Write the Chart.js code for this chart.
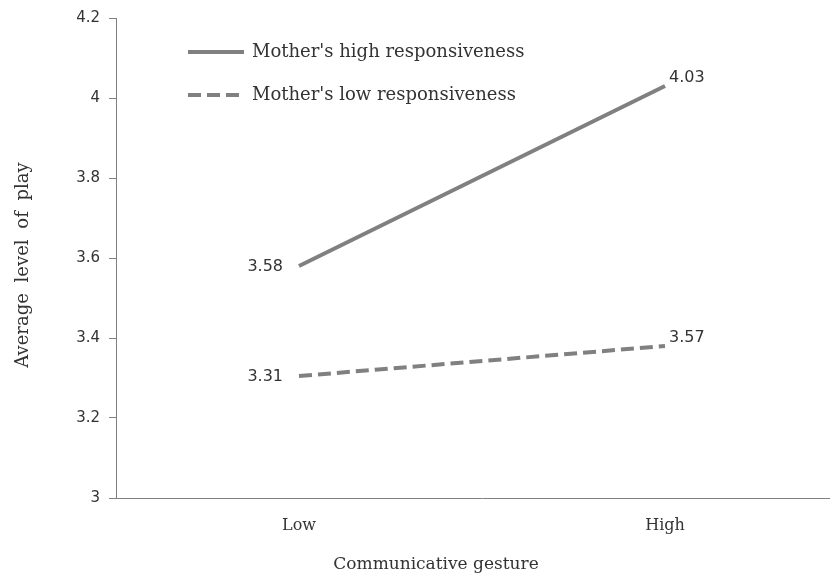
<!DOCTYPE html>
<html>
<head>
<meta charset="utf-8">
<script src="https://cdn.jsdelivr.net/npm/chart.js@4"></script>
<style>
  html, body { margin: 0; padding: 0; background: #fff; overflow: hidden; }
  #wrap { width: 850px; height: 581px; }
</style>
</head>
<body>
<div id="wrap"><canvas id="chart" width="850" height="581"></canvas></div>
<script>
// ===== DATA =====
const categories = ["Low", "High"];
const highResp = [3.58, 4.03];
const lowResp = [3.305, 3.38];
// label texts as printed on the picture
const highLabels = ["3.58", "4.03"];
const lowLabels = ["3.31", "3.57"];
const seriesNames = ["Mother's high responsiveness", "Mother's low responsiveness"];
const yTicks = [3, 3.2, 3.4, 3.6, 3.8, 4, 4.2];

const GREY = "#808080";
const TEXT = "#333333";
const SERIF = "'DejaVu Serif', serif";
const SANS = "'DejaVu Sans', sans-serif";

// ===== LEGEND + LABELS + AXIS TITLES =====
const extras = {
  id: "extras",
  afterDatasetsDraw(chart) {
    const ctx = chart.ctx;
    ctx.save();

    // legend in top-left of plot
    chart.data.datasets.forEach((ds, i) => {
      const y = 52 + i * 43;
      ctx.strokeStyle = GREY;
      ctx.lineWidth = 4;
      ctx.setLineDash(ds.borderDash || []);
      ctx.beginPath();
      ctx.moveTo(188, y);
      ctx.lineTo(244, y);
      ctx.stroke();
      ctx.setLineDash([]);
      ctx.fillStyle = TEXT;
      ctx.font = "18px " + SERIF;
      ctx.textAlign = "left";
      ctx.textBaseline = "middle";
      ctx.fillText(ds.label, 252, y);
    });

    // value labels
    ctx.font = "16px " + SANS;
    ctx.fillStyle = TEXT;
    chart.data.datasets.forEach((ds, i) => {
      const meta = chart.getDatasetMeta(i);
      const texts = i === 0 ? highLabels : lowLabels;
      meta.data.forEach((pt, j) => {
        ctx.textBaseline = "middle";
        if (j === 0) {
          ctx.textAlign = "right";
          ctx.fillText(texts[j], pt.x - 16, pt.y + 1);
        } else {
          ctx.textAlign = "left";
          ctx.fillText(texts[j], pt.x + 4, pt.y - 8);
        }
      });
    });

    // x axis title
    ctx.font = "17px " + SERIF;
    ctx.textAlign = "center";
    ctx.textBaseline = "middle";
    ctx.fillText("Communicative gesture", 436, 565);

    // y axis title
    ctx.translate(23, 265);
    ctx.rotate(-Math.PI / 2);
    ctx.font = "18px " + SERIF;
    ctx.wordSpacing = "5px";
    ctx.fillText("Average level of play", 0, 0);
    ctx.restore();
  }
};

new Chart(document.getElementById("chart"), {
  type: "line",
  data: {
    labels: categories,
    datasets: [
      {
        label: seriesNames[0],
        data: highResp,
        borderColor: GREY,
        borderWidth: 4,
        pointRadius: 0,
        tension: 0
      },
      {
        label: seriesNames[1],
        data: lowResp,
        borderColor: GREY,
        borderWidth: 4,
        borderDash: [13, 6],
        pointRadius: 0,
        tension: 0
      }
    ]
  },
  options: {
    responsive: false,
    animation: false,
    layout: { padding: { left: 0, right: 2, top: 17, bottom: 0 } },
    plugins: {
      legend: { display: false },
      tooltip: { enabled: false }
    },
    scales: {
      x: {
        offset: true,
        grid: { display: false, drawTicks: false },
        border: { display: true, color: GREY, width: 1 },
        ticks: {
          color: TEXT,
          font: { family: SERIF, size: 16 },
          padding: 18
        },
        afterFit: s => { s.height = 83; }
      },
      y: {
        min: 3,
        max: 4.2,
        afterBuildTicks: s => { s.ticks = yTicks.map(v => ({ value: v })); },
        grid: { drawOnChartArea: false, drawTicks: true, tickLength: 7, color: GREY },
        border: { display: true, color: GREY, width: 1 },
        ticks: {
          color: TEXT,
          font: { family: SANS, size: 15 },
          padding: 9,
          callback: v => String(Math.round(v * 10) / 10)
        },
        afterFit: s => { s.width = 116; }
      }
    }
  },
  plugins: [extras]
});
</script>
</body>
</html>
